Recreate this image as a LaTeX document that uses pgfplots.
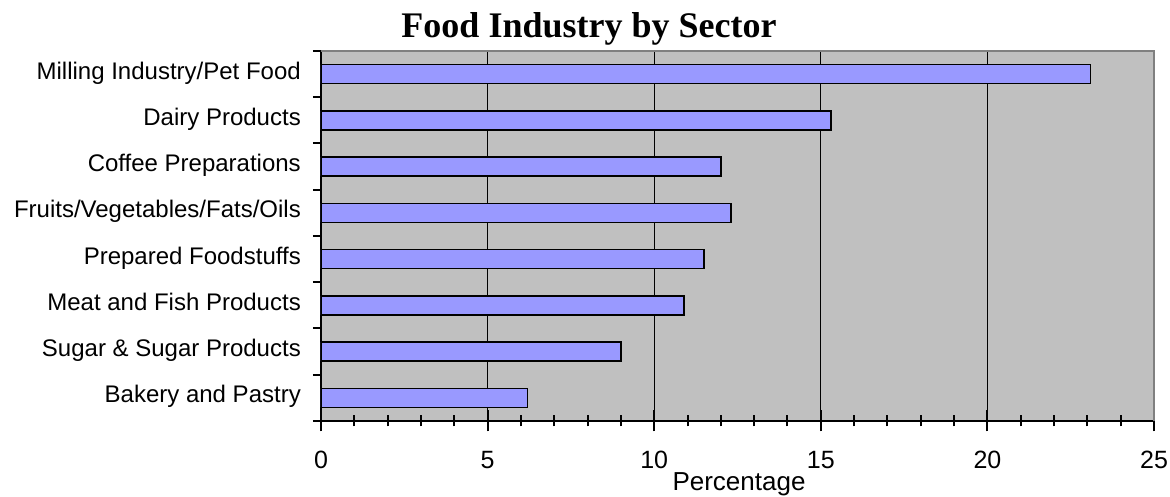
\documentclass[border=0pt]{standalone}
\usepackage{fontspec}
\setmainfont{Liberation Sans}
\newfontfamily\titlefont{Liberation Serif}
\usepackage{pgfplots}
\pgfplotsset{compat=1.18}
\definecolor{plotbg}{HTML}{C0C0C0}
\definecolor{barfill}{HTML}{9999FF}
\definecolor{framegray}{HTML}{808080}
\begin{document}
\begin{tikzpicture}[x=1pt,y=1pt]
\useasboundingbox (0,0) rectangle (1170,497);
\begin{axis}[
  at={(321pt,76pt)}, anchor=south west,
  scale only axis, width=833pt, height=370pt,
  xmin=0, xmax=25, ymin=0.5, ymax=8.5,
  axis background/.style={fill=plotbg},
  axis x line*=bottom, axis y line*=left,
  axis line style={line width=2pt, black},
  tick label style={font=\fontsize{24}{28}\selectfont},
  xticklabel style={font=\fontsize{25}{29}\selectfont},
  /pgf/number format/assume math mode=true,
  xtick={0,5,...,25},
  major tick length=0pt,
  minor xtick={0,...,25}, minor tick length=11pt,
  xtick align=center,
  xmajorgrids, major x grid style={black, line width=1pt},
  xticklabel style={anchor=base, inner sep=0pt, yshift=-48pt},
  extra x ticks={0,5,...,25}, extra x tick labels={},
  extra x tick style={major tick length=21pt, xtick align=center, grid=none},
  ytick={1,...,8},
  yticklabels={Bakery and Pastry, Sugar \& Sugar Products, Meat and Fish Products, Prepared Foodstuffs, Fruits/Vegetables/Fats/Oils, Coffee Preparations, Dairy Products, Milling Industry/Pet Food},
  yticklabel style={anchor=mid east, inner sep=0pt, xshift=-20pt, yshift=-2.4pt},
  extra y ticks={0.5,1.5,...,8.5}, extra y tick labels={},
  extra y tick style={major tick length=8pt, ytick align=outside},
  tick style={line width=2pt, black},
  after end axis/.code={\draw[framegray, line width=2pt] (rel axis cs:0,1) -- (rel axis cs:1,1) -- (rel axis cs:1,0);},
]
\addplot[xbar, bar width=19pt, fill=barfill, draw=black, line width=1.5pt] coordinates {
  (6.2,1) (9.0,2) (10.9,3) (11.5,4) (12.3,5) (12.0,6) (15.3,7) (23.1,8)
};
\end{axis}
\node[font=\titlefont\bfseries\fontsize{36}{40}\selectfont, anchor=base] at (589,459) {Food Industry by Sector};
\node[font=\fontsize{26}{30}\selectfont, anchor=base] at (739,6) {Percentage};
\end{tikzpicture}
\end{document}
